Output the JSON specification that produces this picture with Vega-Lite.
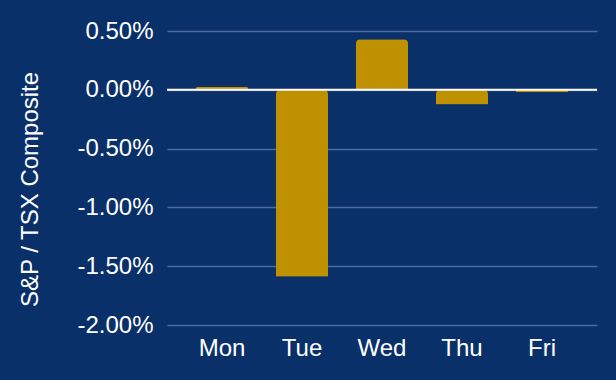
{
  "$schema": "https://vega.github.io/schema/vega-lite/v6.json",
  "width": 430,
  "height": 294,
  "autosize": "none",
  "padding": {"left": 167, "top": 31, "right": 19, "bottom": 55},
  "background": "#0a306a",
  "data": {"values": [
    {"day": "Mon", "value": 0.00025},
    {"day": "Tue", "value": -0.0159},
    {"day": "Wed", "value": 0.0043},
    {"day": "Thu", "value": -0.00125},
    {"day": "Fri", "value": -0.0002}
  ]},
  "layer": [
    {
      "mark": {"type": "bar", "color": "#bf9000", "cornerRadiusEnd": 4},
      "encoding": {
        "x": {
          "field": "day", "type": "nominal", "sort": null,
          "scale": {"paddingInner": 0.35, "paddingOuter": 0.3625},
          "axis": {"title": null, "labelAngle": 0, "domain": false, "ticks": false, "grid": false, "labelColor": "white", "labelFont": "Liberation Sans", "labelFontSize": 24, "labelPadding": 11}
        },
        "y": {
          "field": "value", "type": "quantitative",
          "scale": {"domain": [-0.02, 0.005], "nice": false},
          "axis": {"title": "S&P / TSX Composite", "labelExpr": "replace(format(datum.value, '.2%'), '−', '-')", "values": [-0.02, -0.015, -0.01, -0.005, 0, 0.005],
            "domain": false, "ticks": false, "grid": true, "gridColor": "#4d6b9a", "gridWidth": 1.5,
            "labelColor": "white", "labelFont": "Liberation Sans", "labelFontSize": 24, "labelPadding": 14,
            "titleColor": "white", "titleFont": "Liberation Sans", "titleFontSize": 24, "titleFontWeight": "normal",
            "titleX": -125, "titleY": 158}
        }
      }
    },
    {
      "data": {"values": [{"y": 0}]},
      "mark": {"type": "rule", "color": "white", "strokeWidth": 2},
      "encoding": {"y": {"field": "y", "type": "quantitative"}}
    }
  ],
  "config": {"view": {"stroke": null}}
}
